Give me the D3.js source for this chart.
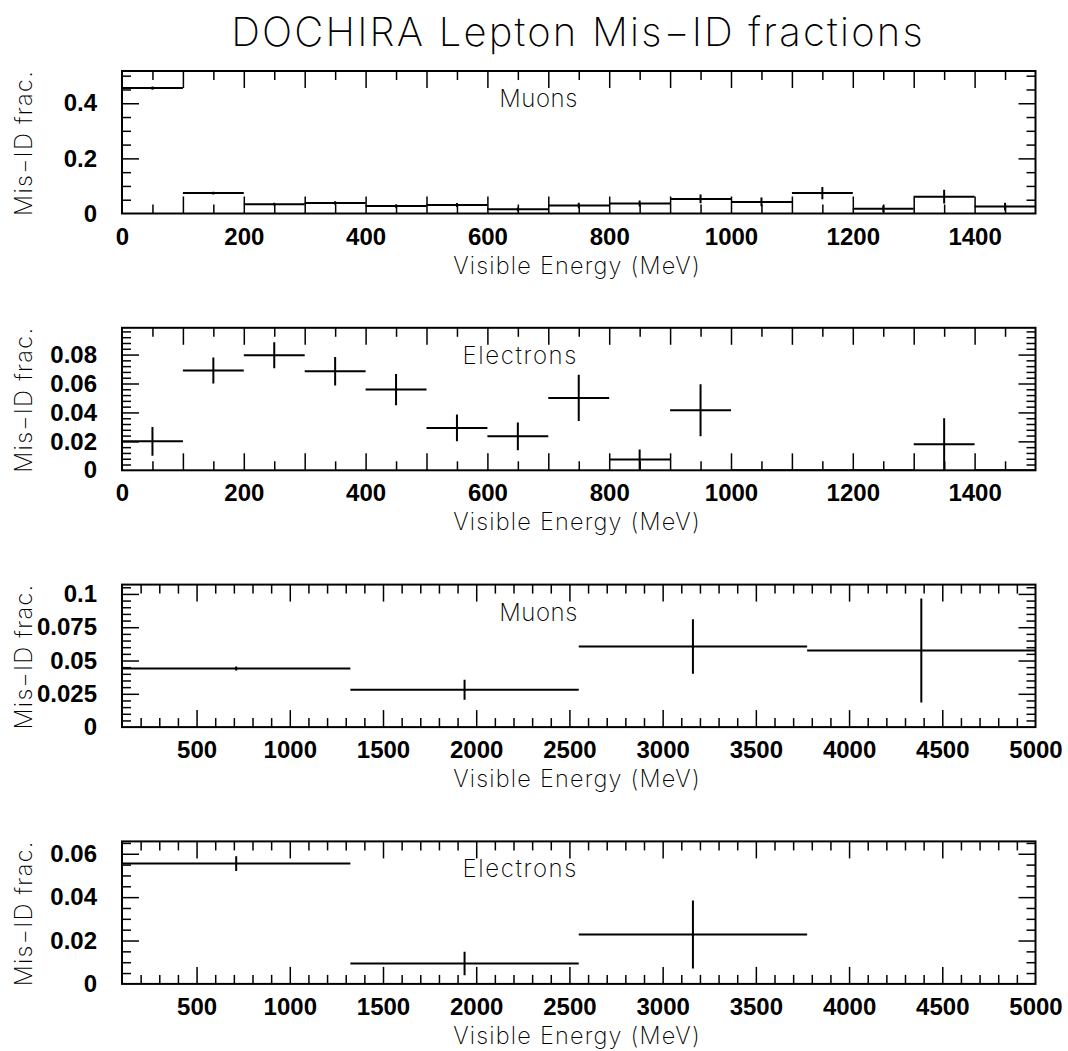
<!DOCTYPE html>
<html>
<head>
<meta charset="utf-8">
<script src="https://cdnjs.cloudflare.com/ajax/libs/d3/7.8.5/d3.min.js"></script>
<style>
  body { margin: 0; background: #fff; }
  svg { display: block; }
  .thin { font-family: "Inter", "DejaVu Sans", sans-serif; font-weight: 200; fill: #000; }
  .lab text { font-family: "Liberation Sans", Arial, sans-serif; font-weight: bold; font-size: 24px; fill: #000; }
</style>
</head>
<body>
<svg id="chart"></svg>
<script>
// bin edges (MeV)
var lowEdges = [0, 100, 200, 300, 400, 500, 600, 700, 800, 900, 1000, 1100, 1200, 1300, 1400, 1500];
var highEdges = [100, 1325, 2550, 3775, 5000];

// muons, fine binning
var muLowVal = [0.455, 0.074, 0.034, 0.038, 0.027, 0.031, 0.015, 0.029, 0.036, 0.053, 0.042, 0.074, 0.017, 0.061, 0.025];
var muLowErr = [0.006, 0.005, 0.005, 0.006, 0.006, 0.007, 0.007, 0.010, 0.011, 0.016, 0.016, 0.022, 0.012, 0.025, 0.014];

// electrons, fine binning
var eLowVal = [0.020, 0.069, 0.0795, 0.0685, 0.0558, 0.0293, 0.0235, 0.050, 0.0074, 0.0415, 0, 0, 0, 0.018, 0];
var eLowErr = [0.010, 0.009, 0.009, 0.0098, 0.0108, 0.0092, 0.0096, 0.016, 0.007, 0.018, 0, 0, 0, 0.018, 0];

// coarse binning
var muHighVal = [0.044, 0.028, 0.0605, 0.0575];
var muHighErr = [0.0015, 0.0075, 0.0204, 0.039];
var eHighVal = [0.0555, 0.0094, 0.0228, 0];
var eHighErr = [0.0034, 0.0054, 0.0157, 0];

// tick labels
var lowXLabels = [0, 200, 400, 600, 800, 1000, 1200, 1400];
var highXLabels = [500, 1000, 1500, 2000, 2500, 3000, 3500, 4000, 4500, 5000];
var muLowYLabels = [0, 0.2, 0.4];
var eLowYLabels = [0, 0.02, 0.04, 0.06, 0.08];
var muHighYLabels = [0, 0.025, 0.05, 0.075, 0.1];
var eHighYLabels = [0, 0.02, 0.04, 0.06];

var width = 1068, height = 1051;
var left = 122, right = 1035.5, frameH = 142.5;
var tops = [71, 327.8, 584.6, 841.4];

var svg = d3.select('#chart').attr('width', width).attr('height', height);

svg.append('text')
    .attr('class', 'thin')
    .attr('x', 578).attr('y', 46)
    .attr('text-anchor', 'middle')
    .style('font-size', '40px')
    .style('letter-spacing', '2.2px')
    .text('DOCHIRA Lepton Mis\u2212ID fractions');

var panels = [
    {label: 'Muons', edges: lowEdges, val: muLowVal, err: muLowErr, xdom: [0, 1500], ymax: 0.517,
     xLab: lowXLabels, xMinor: 50, xMajor: 100, yLab: muLowYLabels, yMinor: 0.05, yMajor: 0.2},
    {label: 'Electrons', edges: lowEdges, val: eLowVal, err: eLowErr, xdom: [0, 1500], ymax: 0.0985,
     xLab: lowXLabels, xMinor: 50, xMajor: 100, yLab: eLowYLabels, yMinor: 0.004, yMajor: 0.02},
    {label: 'Muons', edges: highEdges, val: muHighVal, err: muHighErr, xdom: [100, 5000], ymax: 0.107,
     xLab: highXLabels, xMinor: 100, xMajor: 500, yLab: muHighYLabels, yMinor: 0.005, yMajor: 0.025},
    {label: 'Electrons', edges: highEdges, val: eHighVal, err: eHighErr, xdom: [100, 5000], ymax: 0.0657,
     xLab: highXLabels, xMinor: 100, xMajor: 500, yLab: eHighYLabels, yMinor: 0.005, yMajor: 0.02}
];

function fmt(d) {
    return d === 0 ? '0' : String(+d.toFixed(3));
}

function onStep(v, step) {
    var r = v / step;
    return Math.abs(r - Math.round(r)) < 1e-6;
}

panels.forEach(function (p, i) {
    var w = right - left, h = frameH;
    var g = svg.append('g').attr('transform', 'translate(' + left + ',' + tops[i] + ')');
    var x = d3.scaleLinear().domain(p.xdom).range([0, w]);
    var y = d3.scaleLinear().domain([0, p.ymax]).range([h, 0]);

    // tick positions
    var xt = d3.range(Math.ceil(p.xdom[0] / p.xMinor) * p.xMinor, p.xdom[1] + 1e-9, p.xMinor)
        .filter(function (v) { return v > p.xdom[0] && v < p.xdom[1]; });
    var xBig = xt.filter(function (v) { return onStep(v, p.xMajor); });
    var xSmall = xt.filter(function (v) { return !onStep(v, p.xMajor); });
    var yt = d3.range(p.yMinor, p.ymax, p.yMinor).map(function (v) { return +v.toFixed(6); });
    var yBig = yt.filter(function (v) { return onStep(v, p.yMajor); });
    var ySmall = yt.filter(function (v) { return !onStep(v, p.yMajor); });

    function ticks(axis, vals, len, tx, ty) {
        var a = g.append('g')
            .attr('transform', 'translate(' + tx + ',' + ty + ')')
            .call(axis.tickValues(vals).tickSize(len).tickSizeOuter(0).tickFormat(''));
        a.select('.domain').remove();
        a.selectAll('line').attr('stroke', '#000').attr('stroke-width', 1.5);
    }
    ticks(d3.axisTop(x), xBig, 17, 0, h);
    ticks(d3.axisTop(x), xSmall, 9, 0, h);
    ticks(d3.axisBottom(x), xBig, 17, 0, 0);
    ticks(d3.axisBottom(x), xSmall, 9, 0, 0);
    ticks(d3.axisRight(y), yBig, 17, 0, 0);
    ticks(d3.axisRight(y), ySmall, 9, 0, 0);
    ticks(d3.axisLeft(y), yBig, 17, w, 0);
    ticks(d3.axisLeft(y), ySmall, 9, w, 0);

    // tick labels
    var xl = g.append('g').attr('class', 'lab')
        .attr('transform', 'translate(0,' + h + ')')
        .call(d3.axisBottom(x).tickValues(p.xLab).tickSize(0).tickPadding(14).tickFormat(fmt));
    xl.select('.domain').remove();
    var yl = g.append('g').attr('class', 'lab')
        .call(d3.axisLeft(y).tickValues(p.yLab).tickSize(0).tickPadding(25).tickFormat(fmt));
    yl.select('.domain').remove();

    // data: bin width bars with error bars
    var clipId = 'clip' + i;
    g.append('clipPath').attr('id', clipId)
        .append('rect').attr('width', w).attr('height', h);
    var data = p.val.map(function (v, k) {
        return {lo: p.edges[k], hi: p.edges[k + 1], v: v, e: p.err[k]};
    });
    var dg = g.append('g').attr('clip-path', 'url(#' + clipId + ')');
    dg.selectAll('.hbar').data(data).enter().append('line')
        .attr('class', 'hbar')
        .attr('x1', function (d) { return x(d.lo); })
        .attr('x2', function (d) { return x(d.hi); })
        .attr('y1', function (d) { return y(d.v); })
        .attr('y2', function (d) { return y(d.v); })
        .attr('stroke', '#000').attr('stroke-width', 2);
    dg.selectAll('.ebar').data(data.filter(function (d) { return d.e > 0; })).enter().append('line')
        .attr('class', 'ebar')
        .attr('x1', function (d) { return x((d.lo + d.hi) / 2); })
        .attr('x2', function (d) { return x((d.lo + d.hi) / 2); })
        .attr('y1', function (d) { return y(d.v - d.e); })
        .attr('y2', function (d) { return y(d.v + d.e); })
        .attr('stroke', '#000').attr('stroke-width', 2);

    // frame
    g.append('rect').attr('width', w).attr('height', h)
        .attr('fill', 'none').attr('stroke', '#000').attr('stroke-width', 2);

    // texts
    g.append('text').attr('class', 'thin')
        .attr('x', 578 - left).attr('y', 36)
        .attr('text-anchor', 'end')
        .style('font-size', '24px')
        .style('letter-spacing', p.label === 'Muons' ? '0.6px' : '1.6px')
        .text(p.label);
    g.append('text').attr('class', 'thin')
        .attr('x', 701 - left).attr('y', h + 60)
        .attr('text-anchor', 'end')
        .style('font-size', '23.5px')
        .style('letter-spacing', '1.2px')
        .text('Visible Energy (MeV)');
    g.append('text').attr('class', 'thin')
        .attr('transform', 'translate(' + (32 - left) + ',-1) rotate(-90)')
        .attr('text-anchor', 'end')
        .style('font-size', '23.5px')
        .style('letter-spacing', '1.3px')
        .text('Mis\u2212ID frac.');
});
</script>
</body>
</html>
